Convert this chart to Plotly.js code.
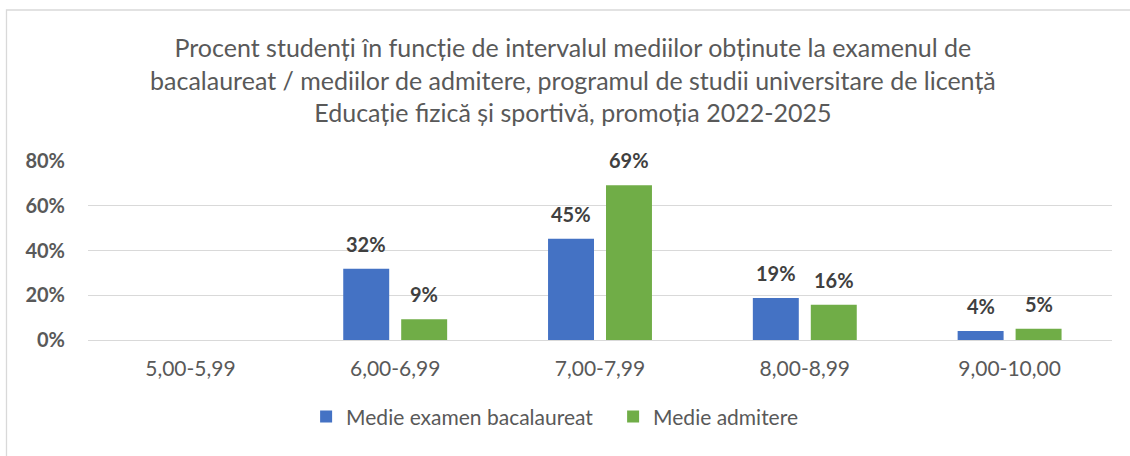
<!DOCTYPE html>
<html>
<head>
<meta charset="utf-8">
<script src="https://cdn.plot.ly/plotly-3.0.1.min.js"></script>
<style>
  html, body { margin: 0; padding: 0; background: #fff; }
  #chart { width: 1130px; height: 456px; }
</style>
</head>
<body>
<div id="chart"></div>
<script>
var categories = ["5,00-5,99", "6,00-6,99", "7,00-7,99", "8,00-8,99", "9,00-10,00"];
var bacValues = [null, 0.318, 0.452, 0.188, 0.040];
var admValues = [null, 0.093, 0.692, 0.158, 0.050];
var seriesNames = ["Medie examen bacalaureat", "Medie admitere"];
var yTicks = [0, 0.2, 0.4, 0.6, 0.8];

var FONT = "Lato, 'Open Sans', sans-serif";
var blue = "#4472C4";
var green = "#70AD47";

var traceBac = {
  type: "bar",
  name: seriesNames[0],
  x: categories,
  y: bacValues,
  marker: { color: blue },
  hoverinfo: "skip"
};
var traceAdm = {
  type: "bar",
  name: seriesNames[1],
  x: categories,
  y: admValues,
  marker: { color: green },
  hoverinfo: "skip"
};

// data labels above bars, a bit higher than plotly's "outside" text
var labels = [];
function addLabels(values, shift) {
  for (var i = 0; i < values.length; i++) {
    if (values[i] === null) continue;
    labels.push({
      x: categories[i], y: values[i], xref: "x", yref: "y",
      text: Math.round(values[i] * 100) + "%",
      showarrow: false, xshift: shift, yshift: 25, yanchor: "middle",
      font: { family: FONT, size: 20, color: "#404040", weight: "bold" }
    });
  }
}
addLabels(bacValues, -29);
addLabels(admValues, 29);

var layout = {
  width: 1130,
  height: 456,
  paper_bgcolor: "#ffffff",
  plot_bgcolor: "#ffffff",
  margin: { l: 88, r: 18, t: 160.5, b: 115.5 },
  font: { family: FONT, color: "#595959" },
  title: {
    text: "Procent studenți în funcție de intervalul mediilor obținute la examenul de<br>bacalaureat / mediilor de admitere, programul de studii universitare de licență<br>Educație fizică și sportivă, promoția 2022-2025",
    font: { family: FONT, size: 25, color: "#595959" },
    xref: "container", x: 0.507, xanchor: "center",
    yref: "container", y: 1 - 57 / 456, yanchor: "top"
  },
  barmode: "group",
  bargap: 0.434,
  bargroupgap: 0.207,
  showlegend: true,
  legend: {
    orientation: "h",
    x: 0.213, xanchor: "left",
    y: -0.43, yanchor: "middle",
    entrywidth: 262,
    entrywidthmode: "pixels",
    font: { family: FONT, size: 21, color: "#595959" },
    bgcolor: "rgba(0,0,0,0)"
  },
  xaxis: {
    type: "category",
    showgrid: false,
    showline: true,
    linecolor: "#d9d9d9",
    linewidth: 1.3,
    ticks: "",
    ticklabelstandoff: 9,
    tickfont: { family: FONT, size: 21, color: "#595959" },
    fixedrange: true
  },
  yaxis: {
    range: [0, 0.8],
    tickvals: yTicks,
    tickformat: ".0%",
    showgrid: true,
    gridcolor: "#d9d9d9",
    gridwidth: 1.3,
    zeroline: false,
    ticks: "",
    ticklabelstandoff: 22,
    tickfont: { family: FONT, size: 20, color: "#595959", weight: "bold" },
    fixedrange: true
  },
  annotations: labels,
  shapes: [
    // chart border (pixel offsets from the plot area's bottom-left corner)
    { type: "rect", xref: "paper", yref: "paper", layer: "below",
      xsizemode: "pixel", ysizemode: "pixel", xanchor: 0, yanchor: 0,
      x0: -81.5, x1: 1100, y0: -140, y1: 330,
      line: { color: "#d9d9d9", width: 1.3 }, fillcolor: "rgba(0,0,0,0)" }
  ]
};

Plotly.newPlot("chart", [traceBac, traceAdm], layout, { displayModeBar: false, staticPlot: true });
</script>
</body>
</html>
